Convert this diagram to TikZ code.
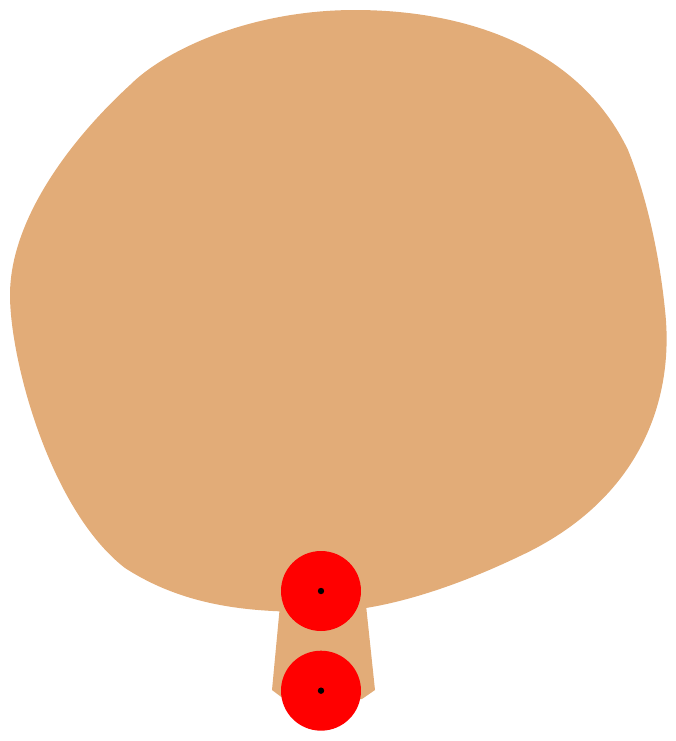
\documentclass[tikz,border=0pt]{standalone}
\usepackage{tikz}
\usetikzlibrary{positioning}
\definecolor{tan}{RGB}{226,172,120}

\begin{document}
\begin{tikzpicture}[
  x=0.02cm,y=-0.02cm,
  body/.style={fill=tan,draw=none},
  wheel/.style={circle,fill=red,draw=none,minimum size=1.6cm,inner sep=0pt},
  pin/.style={fill=black}
]
  \useasboundingbox (0,0) rectangle (676,741);
  % balloon and its neck
  \fill[body] (355,10)
    .. controls (250,10) and (165,50) .. (130,85)
    .. controls (70,140) and (10,220) .. (10,295)
    .. controls (10,360) and (50,510) .. (125,568)
    .. controls (190,610) and (260,612) .. (320,612)
    .. controls (390,612) and (470,580) .. (520,556)
    .. controls (640,500) and (675,400) .. (665,310)
    .. controls (660,260) and (648,200) .. (628,150)
    .. controls (580,50) and (470,10) .. (355,10) -- cycle;
  \fill[body] (280,605) -- (272,690) -- (284,699) -- (362,699)
    -- (375,690) -- (366,605) -- cycle;
  \node[wheel] (up) at (321,591) {};
  \node[wheel,below=0.38cm of up] (down) {};
  \fill[pin] (up) circle (3.2);
  \fill[pin] (down) circle (3.2);
\end{tikzpicture}
\end{document}
